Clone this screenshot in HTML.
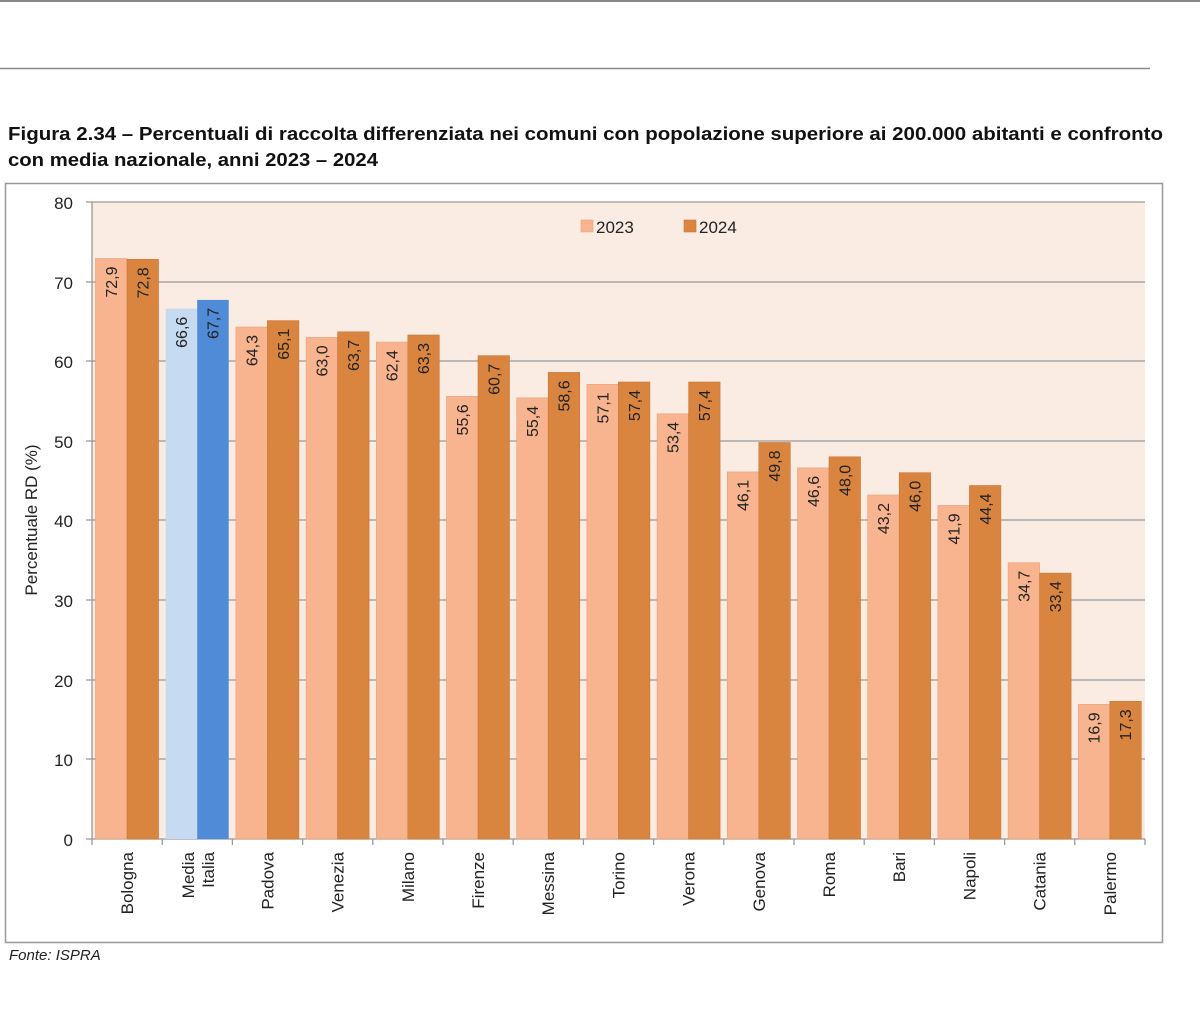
<!DOCTYPE html>
<html><head><meta charset="utf-8"><style>
html,body{margin:0;padding:0;background:#fff;}
svg{display:block;font-family:"Liberation Sans",sans-serif;}
.v{font-size:16px;fill:#222;}
.c{font-size:17px;fill:#222;}
.a{fill:#f7b48f;stroke:#e9a07a;stroke-width:0.6}
.b{fill:#d98540;stroke:#c9773a;stroke-width:0.6}
</style></head><body>
<svg width="1200" height="1013" viewBox="0 0 1200 1013">
<rect width="1200" height="1013" fill="#fff"/>
<line x1="0" y1="1" x2="1200" y2="1" stroke="#888" stroke-width="2"/>
<line x1="0" y1="68.5" x2="1150" y2="68.5" stroke="#888" stroke-width="1.5"/>
<text x="8" y="140" font-size="18" font-weight="bold" fill="#111" textLength="1155" lengthAdjust="spacingAndGlyphs">Figura 2.34 – Percentuali di raccolta differenziata nei comuni con popolazione superiore ai 200.000 abitanti e confronto</text>
<text x="8" y="166" font-size="18" font-weight="bold" fill="#111" textLength="370" lengthAdjust="spacingAndGlyphs">con media nazionale, anni 2023 – 2024</text>
<rect x="5.5" y="183.5" width="1157" height="759" fill="#fff" stroke="#999" stroke-width="1.5"/>
<rect x="92" y="202" width="1053" height="637" fill="#faece3"/>
<g stroke="#999" stroke-width="1.3">
<line x1="86" y1="202" x2="1145" y2="202"/><line x1="86" y1="282" x2="1145" y2="282"/>
<line x1="86" y1="361" x2="1145" y2="361"/><line x1="86" y1="441" x2="1145" y2="441"/>
<line x1="86" y1="520" x2="1145" y2="520"/><line x1="86" y1="600" x2="1145" y2="600"/>
<line x1="86" y1="680" x2="1145" y2="680"/><line x1="86" y1="759" x2="1145" y2="759"/>
<line x1="86" y1="839" x2="1145" y2="839"/>
<line x1="92" y1="202" x2="92" y2="839"/>
</g>
<g class="c" text-anchor="end">
<text x="73" y="209">80</text><text x="73" y="289">70</text><text x="73" y="368">60</text>
<text x="73" y="448">50</text><text x="73" y="527">40</text><text x="73" y="607">30</text>
<text x="73" y="687">20</text><text x="73" y="766">10</text><text x="73" y="846">0</text>
</g>
<text class="c" transform="translate(37,520) rotate(-90)" text-anchor="middle">Percentuale RD (%)</text>
<g stroke="#999" stroke-width="1.3">
<line x1="92" y1="839" x2="92" y2="845"/><line x1="162.2" y1="839" x2="162.2" y2="845"/><line x1="232.4" y1="839" x2="232.4" y2="845"/><line x1="302.6" y1="839" x2="302.6" y2="845"/><line x1="372.8" y1="839" x2="372.8" y2="845"/><line x1="443" y1="839" x2="443" y2="845"/><line x1="513.2" y1="839" x2="513.2" y2="845"/><line x1="583.4" y1="839" x2="583.4" y2="845"/><line x1="653.6" y1="839" x2="653.6" y2="845"/><line x1="723.8" y1="839" x2="723.8" y2="845"/><line x1="794" y1="839" x2="794" y2="845"/><line x1="864.2" y1="839" x2="864.2" y2="845"/><line x1="934.4" y1="839" x2="934.4" y2="845"/><line x1="1004.6" y1="839" x2="1004.6" y2="845"/><line x1="1074.8" y1="839" x2="1074.8" y2="845"/><line x1="1145" y1="839" x2="1145" y2="845"/>
</g>
<!-- bars -->
<rect class="a" x="95.5" y="258.5" width="31.5" height="580.5"/><rect class="b" x="127" y="259.3" width="31.5" height="579.7"/>
<rect x="165.7" y="308.7" width="31.5" height="530.3" fill="#c6daf2"/><rect x="197.2" y="299.9" width="31.5" height="539.1" fill="#4f8bd6"/>
<rect class="a" x="235.9" y="327" width="31.5" height="512"/><rect class="b" x="267.4" y="320.6" width="31.5" height="518.4"/>
<rect class="a" x="306.1" y="337.4" width="31.5" height="501.6"/><rect class="b" x="337.6" y="331.8" width="31.5" height="507.2"/>
<rect class="a" x="376.3" y="342.1" width="31.5" height="496.9"/><rect class="b" x="407.8" y="335" width="31.5" height="504"/>
<rect class="a" x="446.5" y="396.3" width="31.5" height="442.7"/><rect class="b" x="478" y="355.7" width="31.5" height="483.3"/>
<rect class="a" x="516.7" y="397.9" width="31.5" height="441.1"/><rect class="b" x="548.2" y="372.4" width="31.5" height="466.6"/>
<rect class="a" x="586.9" y="384.3" width="31.5" height="454.7"/><rect class="b" x="618.4" y="382" width="31.5" height="457"/>
<rect class="a" x="657.1" y="413.8" width="31.5" height="425.2"/><rect class="b" x="688.6" y="382" width="31.5" height="457"/>
<rect class="a" x="727.3" y="471.9" width="31.5" height="367.1"/><rect class="b" x="758.8" y="442.5" width="31.5" height="396.5"/>
<rect class="a" x="797.5" y="467.9" width="31.5" height="371.1"/><rect class="b" x="829" y="456.8" width="31.5" height="382.2"/>
<rect class="a" x="867.7" y="495" width="31.5" height="344"/><rect class="b" x="899.2" y="472.7" width="31.5" height="366.3"/>
<rect class="a" x="937.9" y="505.4" width="31.5" height="333.6"/><rect class="b" x="969.4" y="485.5" width="31.5" height="353.5"/>
<rect class="a" x="1008.1" y="562.7" width="31.5" height="276.3"/><rect class="b" x="1039.6" y="573.1" width="31.5" height="265.9"/>
<rect class="a" x="1078.3" y="704.4" width="31.5" height="134.6"/><rect class="b" x="1109.8" y="701.3" width="31.5" height="137.7"/>
<!-- value labels -->
<g class="v" text-anchor="end">
<text transform="translate(111.3,266.5) rotate(-90)" dy="0.35em">72,9</text><text transform="translate(142.8,267.3) rotate(-90)" dy="0.35em">72,8</text>
<text transform="translate(181.5,316.7) rotate(-90)" dy="0.35em">66,6</text><text transform="translate(213,307.9) rotate(-90)" dy="0.35em">67,7</text>
<text transform="translate(251.7,335) rotate(-90)" dy="0.35em">64,3</text><text transform="translate(283.2,328.6) rotate(-90)" dy="0.35em">65,1</text>
<text transform="translate(321.9,345.4) rotate(-90)" dy="0.35em">63,0</text><text transform="translate(353.4,339.8) rotate(-90)" dy="0.35em">63,7</text>
<text transform="translate(392.1,350.1) rotate(-90)" dy="0.35em">62,4</text><text transform="translate(423.6,343) rotate(-90)" dy="0.35em">63,3</text>
<text transform="translate(462.3,404.3) rotate(-90)" dy="0.35em">55,6</text><text transform="translate(493.8,363.7) rotate(-90)" dy="0.35em">60,7</text>
<text transform="translate(532.5,405.9) rotate(-90)" dy="0.35em">55,4</text><text transform="translate(564,380.4) rotate(-90)" dy="0.35em">58,6</text>
<text transform="translate(602.7,392.3) rotate(-90)" dy="0.35em">57,1</text><text transform="translate(634.2,390) rotate(-90)" dy="0.35em">57,4</text>
<text transform="translate(672.9,421.8) rotate(-90)" dy="0.35em">53,4</text><text transform="translate(704.4,390) rotate(-90)" dy="0.35em">57,4</text>
<text transform="translate(743.1,479.9) rotate(-90)" dy="0.35em">46,1</text><text transform="translate(774.6,450.5) rotate(-90)" dy="0.35em">49,8</text>
<text transform="translate(813.3,475.9) rotate(-90)" dy="0.35em">46,6</text><text transform="translate(844.8,464.8) rotate(-90)" dy="0.35em">48,0</text>
<text transform="translate(883.5,503) rotate(-90)" dy="0.35em">43,2</text><text transform="translate(915,480.7) rotate(-90)" dy="0.35em">46,0</text>
<text transform="translate(953.7,513.4) rotate(-90)" dy="0.35em">41,9</text><text transform="translate(985.2,493.5) rotate(-90)" dy="0.35em">44,4</text>
<text transform="translate(1023.9,570.7) rotate(-90)" dy="0.35em">34,7</text><text transform="translate(1055.4,581.1) rotate(-90)" dy="0.35em">33,4</text>
<text transform="translate(1094.1,712.4) rotate(-90)" dy="0.35em">16,9</text><text transform="translate(1125.6,709.3) rotate(-90)" dy="0.35em">17,3</text>
</g>
<!-- category labels -->
<g class="c" text-anchor="end">
<text transform="translate(127,852) rotate(-90)" dy="0.35em">Bologna</text>
<text transform="translate(188.2,852) rotate(-90)" dy="0.35em">Media</text>
<text transform="translate(208.2,852) rotate(-90)" dy="0.35em">Italia</text>
<text transform="translate(267.4,852) rotate(-90)" dy="0.35em">Padova</text>
<text transform="translate(337.6,852) rotate(-90)" dy="0.35em">Venezia</text>
<text transform="translate(407.8,852) rotate(-90)" dy="0.35em">Milano</text>
<text transform="translate(478,852) rotate(-90)" dy="0.35em">Firenze</text>
<text transform="translate(548.2,852) rotate(-90)" dy="0.35em">Messina</text>
<text transform="translate(618.4,852) rotate(-90)" dy="0.35em">Torino</text>
<text transform="translate(688.6,852) rotate(-90)" dy="0.35em">Verona</text>
<text transform="translate(758.8,852) rotate(-90)" dy="0.35em">Genova</text>
<text transform="translate(829,852) rotate(-90)" dy="0.35em">Roma</text>
<text transform="translate(899.2,852) rotate(-90)" dy="0.35em">Bari</text>
<text transform="translate(969.4,852) rotate(-90)" dy="0.35em">Napoli</text>
<text transform="translate(1039.6,852) rotate(-90)" dy="0.35em">Catania</text>
<text transform="translate(1109.8,852) rotate(-90)" dy="0.35em">Palermo</text>
</g>
<!-- legend -->
<rect x="581" y="220" width="12" height="12" class="a"/>
<text x="596" y="233" class="c">2023</text>
<rect x="684" y="220" width="12" height="12" class="b"/>
<text x="699" y="233" class="c">2024</text>
<text x="9" y="960" font-size="15" font-style="italic" fill="#222">Fonte: ISPRA</text>
</svg>
</body></html>
